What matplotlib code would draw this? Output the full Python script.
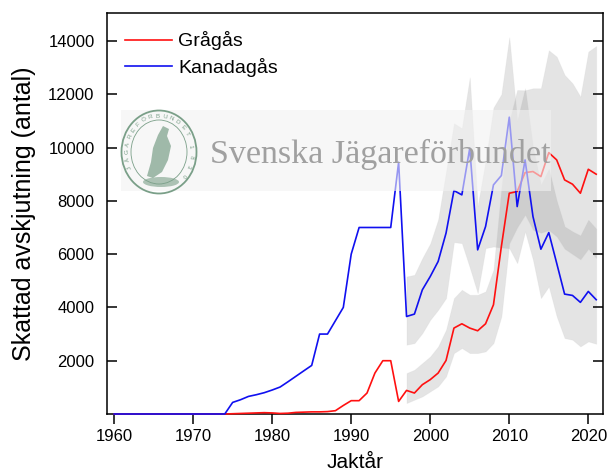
import numpy as np
import matplotlib
matplotlib.use("Agg")
import matplotlib.pyplot as plt
from matplotlib.patches import Ellipse, Rectangle, Polygon

plt.rcParams['font.family'] = ['Liberation Sans', 'DejaVu Sans']

# årtal och skattad avskjutning
years = list(range(1960, 2022))
gragas = [0] * 14 + [0, 10, 20, 30, 40, 50, 40, 20, 30, 60, 70, 80, 80, 90, 124, 320,
          500, 500, 787, 1537, 2000, 2000, 472, 885, 787, 1100, 1290, 1537, 2010,
          3225, 3386, 3225, 3124, 3386, 4100, 6285, 8286, 8350, 9060, 9100, 8910,
          9810, 9536, 8786, 8625, 8286, 9185, 9000]
kanadagas = [0] * 15 + [435, 536, 660, 724, 800, 900, 1012, 1210, 1415, 1620, 1823,
             3000, 3000, 3500, 4000, 6000, 7000, 7000, 7000, 7000, 7000, 9450, 3660,
             3750, 4660, 5160, 5725, 6790, 8385, 8224, 9975, 6160, 7035, 8600, 8950,
             11140, 7785, 9536, 7410, 6185, 6810, 5660, 4500, 4450, 4190, 4600, 4290]

# konfidensintervall från 1997
ci_years = list(range(1997, 2022))
kan_lo = [2600, 2660, 3036, 3536, 3911, 4350, 6450, 6412, 5500, 4536, 6225, 6285, 6250,
          6225, 5662, 6850, 5786, 4350, 4786, 3660, 2850, 2786, 2536, 2724, 2636]
kan_hi = [5160, 5224, 5850, 6400, 7300, 9100, 10910, 10725, 12630, 7800, 9500, 11500,
          12000, 14140, 11000, 12225, 10000, 8600, 9200, 8000, 7036, 6850, 6700, 7286, 6950]
gra_lo = [411, 536, 660, 848, 1036, 1411, 2286, 2474, 2286, 2286, 2349, 2661, 3660,
          6400, 7000, 7474, 6911, 6800, 6900, 6660, 6200, 6000, 5800, 6200, 5850]
gra_hi = [1536, 1661, 1911, 2161, 2536, 3161, 4350, 4661, 4474, 4474, 4600, 5411, 8500,
          11000, 12160, 12150, 12225, 12225, 13650, 13410, 12725, 12410, 11910, 13600, 13810]

fig = plt.figure(figsize=(6.08, 4.74), dpi=100)
ax = fig.add_axes([107 / 608, 60 / 474, 496 / 608, 401 / 474])

ax.fill_between(ci_years, kan_lo, kan_hi, color='#808080', alpha=0.21, lw=0.6,
                edgecolor='#cccccc', zorder=1)
ax.fill_between(ci_years, gra_lo, gra_hi, color='#808080', alpha=0.21, lw=0.6,
                edgecolor='#cccccc', zorder=1)
ax.plot(years, gragas, color='#ff1010', lw=1.2, label='Grågås', zorder=3, clip_on=False)
ax.plot(years, kanadagas, color='#1010f0', lw=1.2, label='Kanadagås', zorder=3,
        clip_on=False)

ax.set_xlim(1959.1, 2021.86)
ax.set_ylim(0, 15050)
ax.set_xticks(range(1960, 2021, 10))
ax.set_yticks(range(2000, 14001, 2000))
ax.tick_params(axis='y', direction='in', length=7, width=1.1, right=True, labelsize=12,
               pad=9)
ax.tick_params(axis='x', direction='out', length=7, width=1.1, labelsize=12)
for s in ax.spines.values():
    s.set_linewidth(1.1)
ax.set_xlabel('Jaktår', fontsize=15, labelpad=7)
ax.set_ylabel('Skattad avskjutning (antal)', fontsize=18, labelpad=9)

ax.legend(loc='upper left', bbox_to_anchor=(0.0, 1.0), frameon=False, fontsize=14,
          handlelength=2.4, handletextpad=0.3, labelspacing=0.4, borderaxespad=0.55)

# vattenstämpel
px = lambda x: (x - 107) / 496
py = lambda y: (414 - y) / 401
ax.add_patch(Rectangle((px(121), py(191)), px(551) - px(121), py(110) - py(191),
                       transform=ax.transAxes, facecolor='#f2f2f2', alpha=0.6,
                       edgecolor='none', zorder=5))
ax.text(px(210), py(163), 'Svenska Jägareförbundet', transform=ax.transAxes,
        family=['Liberation Serif', 'DejaVu Serif'], fontsize=24.5, color='#a0a0a0',
        ha='left', va='baseline', zorder=6)

green = '#7a9f88'
cx, cy = 159, 152
ax.add_patch(Ellipse((px(cx), py(cy)), 75 / 496, 83 / 401, transform=ax.transAxes,
                     facecolor='none', edgecolor=green, lw=1.3, zorder=6))
ax.add_patch(Ellipse((px(cx), py(cy)), 56 / 496, 64 / 401, transform=ax.transAxes,
                     facecolor='none', edgecolor=green, lw=0.6, zorder=6))
ring = 'JÄGAREFÖRBUNDET'
angs = np.linspace(205, 30, len(ring))
for ch, a in zip(ring, angs):
    r = np.radians(a)
    ax.text(px(cx + 32 * np.cos(r)), py(cy - 36 * np.sin(r)), ch, transform=ax.transAxes,
            fontsize=4.5, color=green, ha='center', va='center', rotation=a - 90, zorder=6)
for ch, a in zip('1830', np.linspace(8, -40, 4)):
    r = np.radians(a)
    ax.text(px(cx + 32 * np.cos(r)), py(cy - 36 * np.sin(r)), ch, transform=ax.transAxes,
            fontsize=4.5, color=green, ha='center', va='center', rotation=a - 90, zorder=6)
bird = [(4, -26), (10, -23), (8, -16), (12, -6), (9, 8), (3, 20), (-6, 26), (-12, 24),
        (-8, 10), (-6, -4), (-1, -17)]
ax.add_patch(Polygon([(px(cx + bx), py(cy + by)) for bx, by in bird], closed=True,
                     transform=ax.transAxes, facecolor=green, alpha=0.7,
                     edgecolor='none', zorder=6))
ax.add_patch(Ellipse((px(cx + 2), py(cy + 30)), 36 / 496, 10 / 401, transform=ax.transAxes,
                     facecolor=green, alpha=0.6, edgecolor='none', zorder=6))

fig.savefig('out.png', dpi=100)
